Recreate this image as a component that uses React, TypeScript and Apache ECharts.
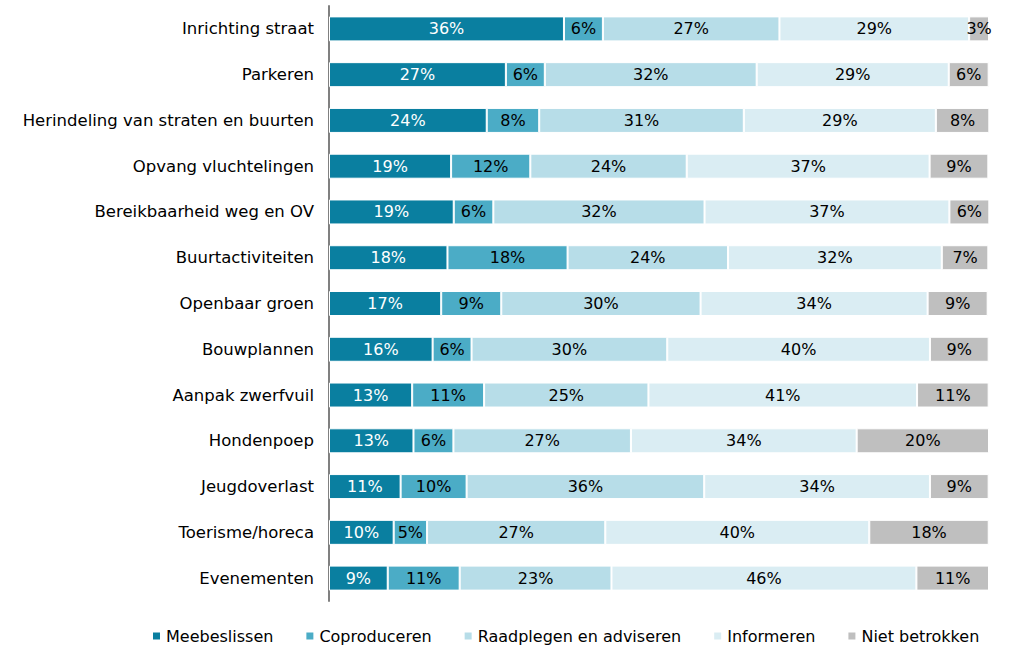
import React, { useEffect, useRef } from "react";
import * as echarts from "echarts";

const categories = [
  "Inrichting straat",
  "Parkeren",
  "Herindeling van straten en buurten",
  "Opvang vluchtelingen",
  "Bereikbaarheid weg en OV",
  "Buurtactiviteiten",
  "Openbaar groen",
  "Bouwplannen",
  "Aanpak zwerfvuil",
  "Hondenpoep",
  "Jeugdoverlast",
  "Toerisme/horeca",
  "Evenementen",
];

const seriesNames = [
  "Meebeslissen",
  "Coproduceren",
  "Raadplegen en adviseren",
  "Informeren",
  "Niet betrokken",
];

const meebeslissen = [35.6, 26.8, 23.9, 18.5, 18.9, 17.95, 17.0, 15.7, 12.6, 12.8, 10.85, 9.8, 8.9];
const coproduceren = [5.9, 5.9, 7.95, 12.0, 6.0, 18.2, 9.1, 5.9, 10.9, 6.05, 10.0, 5.06, 10.9];
const raadplegen = [26.75, 32.1, 31.0, 23.7, 32.0, 24.3, 30.2, 29.65, 24.9, 26.9, 36.0, 27.0, 23.0];
const informeren = [28.74, 29.1, 29.1, 36.8, 37.1, 32.4, 34.4, 39.8, 40.7, 34.2, 34.2, 40.0, 46.2];
const nietBetrokken = [3.01, 6.05, 8.1, 8.9, 6.05, 7.05, 9.1, 8.9, 10.85, 20.05, 8.9, 18.1, 11.0];

const seriesData = [meebeslissen, coproduceren, raadplegen, informeren, nietBetrokken];
const colors = ["#0a7fa0", "#4bacc6", "#b7dde8", "#daedf3", "#bfbfbf"];
const labelColors = ["#ffffff", "#000000", "#000000", "#000000", "#000000"];

const FONT = "'DejaVu Sans', Verdana, sans-serif";

export default function App() {
  const ref = useRef<HTMLDivElement>(null);
  useEffect(() => {
    if (!ref.current) return;
    const chart = echarts.init(ref.current, undefined, { renderer: "svg" });
    chart.setOption({
      animation: false,
      backgroundColor: "#ffffff",
      textStyle: { fontFamily: FONT },
      color: colors,
      grid: { left: 329, right: 20, top: 6, bottom: 47, containLabel: false },
      legend: {
        data: seriesNames,
        top: 623,
        left: 146,
        itemWidth: 9,
        itemHeight: 9,
        itemGap: 31,
        icon: "rect",
        textStyle: { fontFamily: FONT, fontSize: 16, color: "#000" },
      },
      xAxis: {
        type: "value",
        min: 0,
        max: 100,
        show: false,
      },
      yAxis: {
        type: "category",
        data: categories,
        inverse: true,
        axisLine: { show: true, lineStyle: { color: "#808080", width: 2 } },
        axisTick: { show: false },
        axisLabel: { fontFamily: FONT, fontSize: 16.5, color: "#000", margin: 15 },
        splitLine: { show: false },
      },
      series: seriesNames.map((name, i) => ({
        name,
        type: "bar",
        stack: "total",
        barWidth: 25,
        data: seriesData[i],
        itemStyle: { color: colors[i], borderColor: "#ffffff", borderWidth: 1 },
        label: {
          show: true,
          position: "inside",
          fontFamily: FONT,
          fontSize: 16,
          color: labelColors[i],
          formatter: (p: any) => Math.round(p.value) + "%",
        },
      })),
    });
    return () => chart.dispose();
  }, []);
  return (
    <div
      ref={ref}
      style={{ position: "absolute", left: 0, top: 0, width: 1009, height: 648 }}
    />
  );
}
